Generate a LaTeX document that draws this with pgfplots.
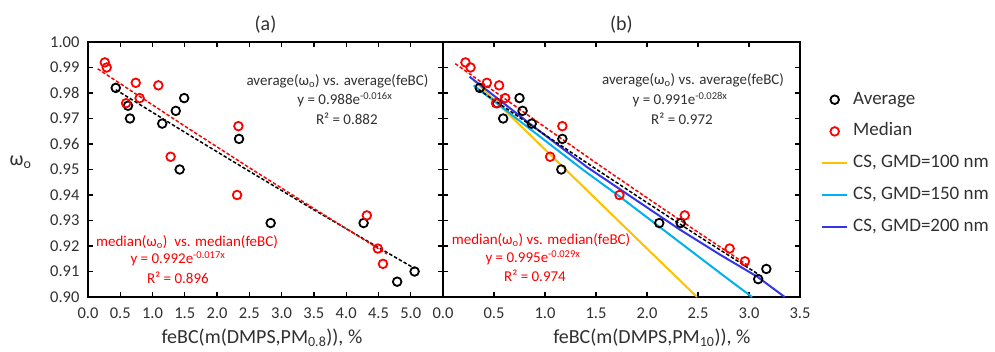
\documentclass[border=0pt]{standalone}
\usepackage{fontspec}
\setmainfont{Carlito}
\usepackage{pgfplots}
\pgfplotsset{compat=1.18}
\definecolor{csyellow}{HTML}{FFC000}
\definecolor{cscyan}{HTML}{00B0F0}
\definecolor{csblue}{HTML}{3535E8}
\definecolor{myred}{HTML}{FF0000}
\definecolor{txt}{HTML}{303030}
\newcommand{\tickfont}{\fontsize{16.5}{18}\selectfont}
\newcommand{\annfont}{\fontsize{15}{17}\selectfont}
\pgfplotsset{
  panel/.style={
    scale only axis, height=255pt,
    ymin=0.9, ymax=1.0,
    ytick={0.90,0.91,0.92,0.93,0.94,0.95,0.96,0.97,0.98,0.99,1.00},
    tick align=inside, major tick length=5pt,
    xtick pos=both, ytick pos=both,
    axis line style={line width=1.5pt},
    every tick/.style={black, line width=1.2pt},
    /pgf/number format/assume math mode=true,
    xticklabel style={font=\tickfont, text=txt, yshift=-7pt, /pgf/number format/.cd, fixed, fixed zerofill, precision=1},
    yticklabel style={font=\tickfont, text=txt, xshift=-5pt, /pgf/number format/.cd, fixed, fixed zerofill, precision=2},
    title style={font=\fontsize{20}{22}\selectfont, text=txt, at={(0.5,1)}, anchor=center, yshift=11pt},
    xlabel style={font=\fontsize{20}{22}\selectfont, text=txt, anchor=center},
    clip=false,
  },
  avg/.style={only marks, mark=o, mark size=4.3pt, line width=1.8pt, black},
  med/.style={only marks, mark=o, mark size=4.3pt, line width=1.8pt, myred},
  dashline/.style={line width=1.5pt, dash pattern=on 3.5pt off 2pt, no marks},
  markleg/.style={legend image code/.code={\draw[##1] plot coordinates {(12.5pt,0pt)};}},
  lineleg/.style={legend image code/.code={\draw[##1] (0pt,0pt) -- (25pt,0pt);}},
}
\begin{document}
\begin{tikzpicture}
\useasboundingbox (0pt,0pt) rectangle (995pt,351pt);
% ---------------- panel (a)
\begin{axis}[panel, at={(88pt,54pt)}, anchor=south west, width=355pt,
  xmin=0, xmax=5.5, xtick={0,0.5,1,1.5,2,2.5,3,3.5,4,4.5,5},
  title={(a)},
  xlabel={feBC(m(DMPS,PM\textsubscript{0.8})), \%},
  xlabel style={at={(axis description cs:0.49,0)}, yshift=-41pt},
  ylabel={\fontsize{20}{22}\selectfont ω\textsubscript{o}},
  ylabel style={text=txt, at={(axis description cs:-0.19,0.53)}, anchor=center, rotate=-90},
]
\addplot[dashline, black] coordinates {(0.43,0.9813) (1.5,0.9646) (2.5,0.9493) (3.5,0.9342) (4.5,0.9194) (5.06,0.9112)};
\addplot[dashline, myred] coordinates {(0.15,0.9895) (1.5,0.9670) (2.5,0.9507) (3.5,0.9347) (4.63,0.9169)};
\addplot[avg] coordinates {
(0.43,0.982) (0.62,0.975) (0.65,0.970) (1.15,0.968) (1.36,0.973) (1.49,0.978)
(1.42,0.950) (2.34,0.962) (2.83,0.929) (4.27,0.929) (4.79,0.906) (5.06,0.910)};
\addplot[med] coordinates {
(0.26,0.992) (0.29,0.990) (0.74,0.984) (1.09,0.983) (0.59,0.976) (0.80,0.978)
(1.28,0.955) (2.33,0.967) (2.31,0.940) (4.32,0.932) (4.49,0.919) (4.57,0.913)};
\node[font=\annfont, text=txt] at (axis cs:3.865,0.9847) {average(ω\textsubscript{o}) vs. average(feBC)};
\node[font=\annfont, text=txt] at (axis cs:3.98,0.9773) {y = 0.988e\textsuperscript{-0.016x}};
\node[font=\annfont, text=txt] at (axis cs:4.01,0.9698) {R² = 0.882};
\node[font=\annfont, text=myred] at (axis cs:1.534,0.9216) {median(ω\textsubscript{o})\ \ vs. median(feBC)};
\node[font=\annfont, text=myred] at (axis cs:1.394,0.9149) {y = 0.992e\textsuperscript{-0.017x}};
\node[font=\annfont, text=myred] at (axis cs:1.394,0.9075) {R² = 0.896};
\end{axis}
% ---------------- panel (b)
\begin{axis}[panel, at={(443pt,54pt)}, anchor=south west, width=357pt,
  xmin=0, xmax=3.5, xtick={0,0.5,1,1.5,2,2.5,3,3.5},
  yticklabels={},
  title={(b)},
  xlabel={feBC(m(DMPS,PM\textsubscript{10})), \%},
  xlabel style={at={(axis description cs:0.585,0)}, yshift=-41pt},
  legend style={draw=none, fill=none, at={(axis description cs:1,1)}, anchor=north west,
    xshift=21pt, yshift=-47pt, font=\fontsize{19}{22}\selectfont, text=txt,
    row sep=10.7pt, column sep=3pt, inner sep=0pt,
    nodes={inner sep=2pt, text height=13pt, text depth=4pt}},
  legend cell align=left,
]
\addplot[forget plot, csyellow, line width=2pt, no marks] coordinates {(0.30,0.9851) (1.05,0.9559) (1.77,0.9279) (2.49,0.900)};
\addplot[forget plot, cscyan, line width=2pt, no marks] coordinates {(0.30,0.9830) (0.85,0.9660) (1.375,0.9498) (1.735,0.9393) (2.72,0.9093) (3.03,0.900)};
\addplot[forget plot, csblue, line width=2pt, no marks] coordinates {(0.26,0.9864) (0.85,0.9680) (1.41,0.9510) (2.32,0.9265) (2.72,0.9165) (3.08,0.9080) (3.35,0.900)};
\addplot[forget plot, dashline, black] coordinates {(0.35,0.9813) (1.0,0.9636) (1.5,0.9502) (2.0,0.9370) (2.5,0.9240) (3.1,0.9087)};
\addplot[forget plot, dashline, myred] coordinates {(0.12,0.9915) (1.0,0.9666) (1.5,0.9526) (2.0,0.9389) (2.5,0.9254) (3.0,0.9121)};
\addplot[avg, markleg] coordinates {
(0.36,0.982) (0.53,0.976) (0.59,0.970) (0.75,0.978) (0.78,0.973) (0.87,0.968)
(1.17,0.962) (1.16,0.950) (2.12,0.929) (2.33,0.929) (3.09,0.907) (3.17,0.911)};
\addlegendentry{Average}
\addplot[med, markleg] coordinates {
(0.22,0.992) (0.27,0.990) (0.43,0.984) (0.55,0.983) (0.61,0.978) (0.52,0.976)
(1.17,0.967) (1.05,0.955) (1.73,0.940) (2.37,0.932) (2.81,0.919) (2.96,0.914)};
\addlegendentry{Median}
\addlegendimage{csyellow, line width=2pt, lineleg}
\addlegendentry{CS, GMD=100 nm}
\addlegendimage{cscyan, line width=2pt, lineleg}
\addlegendentry{CS, GMD=150 nm}
\addlegendimage{csblue, line width=2pt, lineleg}
\addlegendentry{CS, GMD=200 nm}
\node[font=\annfont, text=txt] at (axis cs:2.451,0.9851) {average(ω\textsubscript{o}) vs. average(feBC)};
\node[font=\annfont, text=txt] at (axis cs:2.324,0.9773) {y = 0.991e\textsuperscript{-0.028x}};
\node[font=\annfont, text=txt] at (axis cs:2.343,0.9698) {R² = 0.972};
\node[font=\annfont, text=myred] at (axis cs:0.961,0.9224) {median(ω\textsubscript{o}) vs. median(feBC)};
\node[font=\annfont, text=myred] at (axis cs:0.882,0.9153) {y = 0.995e\textsuperscript{-0.029x}};
\node[font=\annfont, text=myred] at (axis cs:0.902,0.9082) {R² = 0.974};
\end{axis}
\end{tikzpicture}
\end{document}
